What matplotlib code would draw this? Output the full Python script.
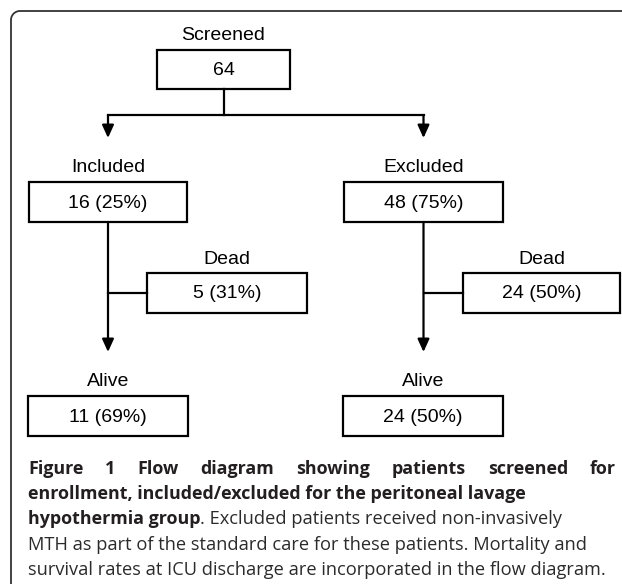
import numpy as np
import matplotlib
matplotlib.use("Agg")
import matplotlib.pyplot as plt
from matplotlib.patches import Rectangle

# ------------------------------------------------------------
# Data : patient counts in the flow diagram
# ------------------------------------------------------------
node_names = ["screened", "included", "excluded", "dead_inc", "alive_inc", "dead_exc", "alive_exc"]
node_titles = ["Screened", "Included", "Excluded", "Dead", "Alive", "Dead", "Alive"]
node_counts = [64, 16, 48, 5, 11, 24, 24]
node_parent = [None, "screened", "screened", "included", "included", "excluded", "excluded"]

caption_bold = [
    "Figure 1 Flow diagram showing patients screened for",
    "enrollment, included/excluded for the peritoneal lavage",
    "hypothermia group",
]
caption_regular = [
    ". Excluded patients received non-invasively",
    "MTH as part of the standard care for these patients. Mortality and",
    "survival rates at ICU discharge are incorporated in the flow diagram.",
]

# ------------------------------------------------------------
# Layout (pixel coordinates, y downwards)
# ------------------------------------------------------------
box_pos = {
    "screened": (157, 50, 290, 89),
    "included": (29, 182, 187, 222),
    "excluded": (344, 182, 503, 222),
    "dead_inc": (147, 273, 307, 313),
    "alive_inc": (28, 396, 188, 436),
    "dead_exc": (463, 273, 620, 313),
    "alive_exc": (343, 396, 503, 436),
}

counts = dict(zip(node_names, node_counts))
parents = dict(zip(node_names, node_parent))

fig = plt.figure(figsize=(6.22, 5.85), dpi=100)
ax = fig.add_axes([0, 0, 1, 1])
ax.set_xlim(0, 622)
ax.set_ylim(585, 0)
ax.axis("off")

box_font = dict(family=["Liberation Sans", "DejaVu Sans"], fontsize=14, color="black")
lw = 1.6

# outer frame (top and left edges with rounded corner)
r = 9
theta = np.linspace(np.pi, 1.5 * np.pi, 20)
fx = np.concatenate([[11], 11 + r + r * np.cos(theta), [625]])
fy = np.concatenate([[584], 11 + r + r * np.sin(theta), [11]])
ax.plot(fx, fy, color="#333333", lw=1.3, solid_capstyle="butt")

# boxes and labels
for name, title in zip(node_names, node_titles):
    x0, y0, x1, y1 = box_pos[name]
    ax.add_patch(Rectangle((x0, y0), x1 - x0, y1 - y0, fill=False,
                           edgecolor="black", lw=lw))
    cx = (x0 + x1) / 2
    n = counts[name]
    p = parents[name]
    if p is None:
        label = f"{n}"
    else:
        label = f"{n} ({round(100 * n / counts[p] + 1e-9):.0f}%)"
    ax.text(cx, (y0 + y1) / 2 + 1, label, ha="center", va="center", **box_font)
    ax.text(cx, y0 - 14, title, ha="center", va="center", **box_font)


def arrow(x, y_start, y_end):
    ax.annotate("", xy=(x, y_end), xytext=(x, y_start),
                arrowprops=dict(arrowstyle="-|>,head_length=0.55,head_width=0.25",
                                lw=lw, color="black", shrinkA=0, shrinkB=0,
                                mutation_scale=14))


# screened -> included / excluded
sx0, sy0, sx1, sy1 = box_pos["screened"]
scx = (sx0 + sx1) / 2
split_y = 115
lcx = (box_pos["included"][0] + box_pos["included"][2]) / 2
rcx = (box_pos["excluded"][0] + box_pos["excluded"][2]) / 2
ax.plot([scx, scx], [sy1, split_y], color="black", lw=lw)
ax.plot([lcx, rcx], [split_y, split_y], color="black", lw=lw, solid_capstyle="projecting")
arrow(lcx, split_y, 138)
arrow(rcx, split_y, 138)

# included/excluded -> alive, with branch to dead
for src, dead in [("included", "dead_inc"), ("excluded", "dead_exc")]:
    x0, y0, x1, y1 = box_pos[src]
    cx = (x0 + x1) / 2
    dx0, dy0, dx1, dy1 = box_pos[dead]
    arrow(cx, y1, 352)
    ax.plot([cx, dx0], [(dy0 + dy1) / 2] * 2, color="black", lw=lw)

# ------------------------------------------------------------
# Caption
# ------------------------------------------------------------
left, right = 28, 616
baselines = [474, 499, 524, 550, 575]
renderer = fig.canvas.get_renderer()


def text_width(s, **kw):
    t = ax.text(0, 0, s, **kw)
    w = t.get_window_extent(renderer).width
    t.remove()
    return w


cap_font = dict(family=["Open Sans", "DejaVu Sans"], fontsize=10, color="#2b2b2b")
bold_font = dict(cap_font, fontweight="bold", color="#231f20")

# size regular text from the widths of the last two lines, bold text from line 2
w_reg = text_width(caption_regular[1], **cap_font) + text_width(caption_regular[2], **cap_font)
cap_font["fontsize"] = 10 * 1135 / w_reg
w_bold = text_width(caption_bold[1], **bold_font)
bold_font["fontsize"] = 10 * 500 / w_bold

# line 1: bold, justified
words = caption_bold[0].split()
objs = [ax.text(0, baselines[0], w, va="baseline", ha="left", **bold_font) for w in words]
widths = [o.get_window_extent(renderer).width for o in objs]
gap = (right - left - sum(widths)) / (len(words) - 1)
x = left
for o, w in zip(objs, widths):
    o.set_x(x)
    x += w + gap

# line 2: bold
ax.text(left, baselines[1], caption_bold[1], va="baseline", ha="left", **bold_font)

# line 3: bold + regular
b = ax.text(left, baselines[2], caption_bold[2], va="baseline", ha="left", **bold_font)
bw = b.get_window_extent(renderer).width
ax.text(left + bw, baselines[2], caption_regular[0], va="baseline", ha="left", **cap_font)

# lines 4-5: regular
ax.text(left, baselines[3], caption_regular[1], va="baseline", ha="left", **cap_font)
ax.text(left, baselines[4], caption_regular[2], va="baseline", ha="left", **cap_font)

fig.savefig("out.png", dpi=100)
